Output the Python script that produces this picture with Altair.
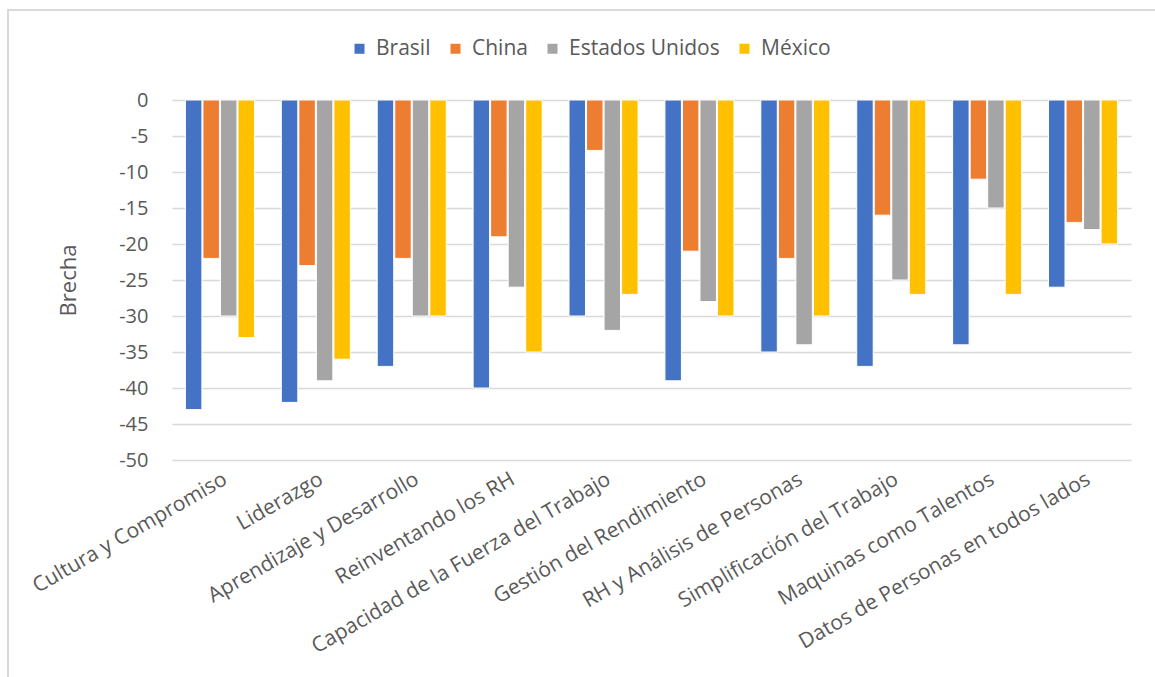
import altair as alt
import pandas as pd

categories = [
    "Cultura y Compromiso", "Liderazgo", "Aprendizaje y Desarrollo",
    "Reinventando los RH", "Capacidad de la Fuerza del Trabajo",
    "Gestión del Rendimiento", "RH y Análisis de Personas",
    "Simplificación del Trabajo", "Maquinas como Talentos",
    "Datos de Personas en todos lados",
]
countries = ["Brasil", "China", "Estados Unidos", "México"]
brasil = [-43, -42, -37, -40, -30, -39, -35, -37, -34, -26]
china = [-22, -23, -22, -19, -7, -21, -22, -16, -11, -17]
estados_unidos = [-30, -39, -30, -26, -32, -28, -34, -25, -15, -18]
mexico = [-33, -36, -30, -35, -27, -30, -30, -27, -27, -20]
colors = ["#4472C4", "#ED7D31", "#A5A5A5", "#FFC000"]

series = [brasil, china, estados_unidos, mexico]
rows = []
for country, vals in zip(countries, series):
    for cat, v in zip(categories, vals):
        rows.append({"Categoria": cat, "País": country, "Brecha": v})
df = pd.DataFrame(rows)

FONT = "Open Sans"
TXT = "#595959"

bars = alt.Chart(df).mark_bar(stroke="white", strokeWidth=1).encode(
    x=alt.X("Categoria:N", sort=categories, title=None,
            scale=alt.Scale(paddingInner=0.28, paddingOuter=0.14),
            axis=alt.Axis(labelAngle=-30, labelAlign="right", labelBaseline="top",
                          labelFontSize=21, labelColor=TXT, labelFont=FONT,
                          domain=False, ticks=False, labelPadding=8,
                          labelLimit=500, grid=False)),
    xOffset=alt.XOffset("País:N", sort=countries,
                        scale=alt.Scale(paddingInner=0.06)),
    y=alt.Y("Brecha:Q", title="Brecha",
            scale=alt.Scale(domain=[-50, 0], nice=False),
            axis=alt.Axis(values=list(range(-50, 1, 5)), labelFontSize=20,
                          labelExpr="'' + datum.value",
                          labelColor=TXT, labelFont=FONT, domain=False, ticks=False,
                          labelPadding=24, gridColor="#D9D9D9", gridWidth=1.5,
                          titleFontSize=22, titleFont=FONT, titleColor=TXT,
                          titleFontWeight="normal", titlePadding=38)),
    color=alt.Color("País:N", sort=countries,
                    scale=alt.Scale(domain=countries, range=colors),
                    legend=alt.Legend(title=None, orient="none", direction="horizontal",
                                      legendX=177, legendY=-62, symbolType="square",
                                      symbolSize=100, symbolStrokeWidth=0,
                                      labelFontSize=21, labelColor=TXT, labelFont=FONT,
                                      columnPadding=14, labelOffset=6)),
)

frame_df = pd.DataFrame({"k": [0]})
frame = alt.Chart(frame_df).mark_rect(fill=None, stroke="#D9D9D9", strokeWidth=2, clip=False).encode(
    x=alt.value(-164), x2=alt.value(1200), y=alt.value(-90), y2=alt.value(700)
)

chart = alt.layer(frame, bars).properties(
    width=959, height=360,
    padding={"left": 172, "top": 100, "right": 24, "bottom": 217},
    autosize="none",
).configure_view(stroke=None)

chart.save("out.html", embed_options={"renderer": "svg", "actions": False})
